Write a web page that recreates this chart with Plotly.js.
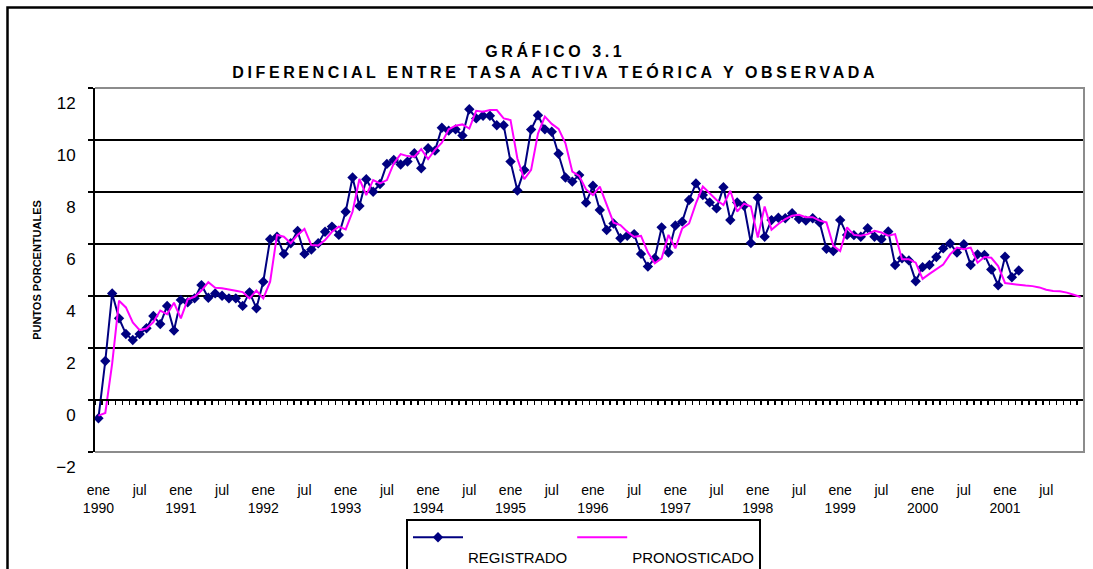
<!DOCTYPE html>
<html><head><meta charset="utf-8">
<script src="https://cdn.plot.ly/plotly-3.0.1.min.js"></script>
<style>
body{margin:0;background:#fff;}
#chart .gtitle{letter-spacing:3.6px;}
</style>
</head><body>
<div id="chart" style="width:1093px;height:569px;"></div>
<script>
const anios = [1990,1991,1992,1993,1994,1995,1996,1997,1998,1999,2000,2001];
const mesesAbrev = ["ene","feb","mar","abr","may","jun","jul","ago","sep","oct","nov","dic"];
const categorias = [];
anios.forEach(a => mesesAbrev.forEach(m => categorias.push(m + " " + a)));

const registrado = [
 -0.70, 1.50, 4.10, 3.14, 2.54, 2.31, 2.54, 2.76, 3.23, 2.92,
 3.62, 2.67, 3.85, 3.76, 3.91, 4.42, 3.93, 4.10, 4.01, 3.91,
 3.91, 3.62, 4.14, 3.53, 4.55, 6.18, 6.28, 5.62, 6.03, 6.50,
 5.62, 5.79, 6.03, 6.47, 6.67, 6.35, 7.24, 8.56, 7.46, 8.49,
 8.01, 8.31, 9.08, 9.23, 9.06, 9.17, 9.49, 8.91, 9.68, 9.59,
 10.47, 10.36, 10.41, 10.17, 11.18, 10.83, 10.93, 10.93, 10.57, 10.57,
 9.17, 8.06, 8.85, 10.40, 10.95, 10.41, 10.32, 9.47, 8.56, 8.40,
 8.65, 7.59, 8.24, 7.31, 6.54, 6.79, 6.22, 6.32, 6.38, 5.62,
 5.13, 5.45, 6.64, 5.67, 6.71, 6.86, 7.69, 8.33, 7.88, 7.60,
 7.37, 8.18, 6.92, 7.60, 7.47, 6.04, 7.78, 6.28, 6.92, 7.01,
 6.99, 7.18, 6.96, 6.90, 6.99, 6.83, 5.82, 5.73, 6.92, 6.35,
 6.34, 6.28, 6.61, 6.28, 6.18, 6.48, 5.19, 5.45, 5.37, 4.57,
 5.11, 5.19, 5.50, 5.83, 6.02, 5.67, 5.99, 5.19, 5.60, 5.58,
 5.02, 4.41, 5.51, 4.72, 4.98
];

const pronosticado = [
 -0.60, -0.50, 1.40, 3.82, 3.56, 2.98, 2.69, 2.75, 3.00, 3.44,
 3.30, 3.74, 3.14, 3.87, 3.97, 4.21, 4.53, 4.32, 4.30, 4.26,
 4.20, 4.15, 3.91, 4.21, 3.91, 4.55, 6.35, 6.28, 6.03, 6.35,
 6.58, 5.96, 5.94, 6.15, 6.47, 6.67, 6.56, 7.24, 8.50, 7.88,
 8.46, 8.33, 8.46, 9.10, 9.46, 9.38, 9.36, 9.65, 9.27, 9.62,
 9.90, 10.41, 10.55, 10.60, 10.44, 11.12, 11.09, 11.15, 11.15, 10.83,
 10.77, 9.29, 8.49, 8.85, 10.25, 10.90, 10.62, 10.43, 9.87, 8.78,
 8.62, 8.10, 7.88, 8.21, 7.50, 6.82, 6.73, 6.47, 6.28, 6.31,
 5.68, 5.26, 5.45, 6.35, 5.83, 6.60, 6.79, 7.56, 8.21, 7.95,
 7.69, 7.50, 8.05, 7.25, 7.55, 7.44, 6.25, 7.44, 6.55, 6.77,
 6.96, 7.09, 7.12, 7.03, 7.03, 6.90, 6.83, 5.93, 5.73, 6.64,
 6.35, 6.32, 6.38, 6.51, 6.44, 6.32, 6.38, 5.41, 5.41, 5.28,
 4.66, 4.85, 5.02, 5.21, 5.60, 5.86, 5.80, 5.86, 5.28, 5.50,
 5.47, 5.15, 4.50, 4.46, 4.44, 4.40, 4.38, 4.33, 4.24, 4.19,
 4.18, 4.13, 4.05, 3.96
];

const nombres = ["REGISTRADO", "PRONOSTICADO"];
const tituloGrafico = "GRÁFICO 3.1";
const subtituloGrafico = "DIFERENCIAL ENTRE TASA ACTIVA TEÓRICA Y OBSERVADA";
const tituloEjeY = "PUNTOS PORCENTUALES";

const etiquetasPos = categorias.filter((c, i) => i % 6 === 0);
const etiquetasTexto = etiquetasPos.map(c => {
  const partes = c.split(" ");
  return partes[0] === "ene" ? "ene<br>" + partes[1] : partes[0];
});

const FONT = "Liberation Sans, Arial, sans-serif";

const traces = [
  {
    type: "scatter", mode: "lines+markers", name: "&nbsp;<br>" + nombres[0],
    x: categorias.slice(0, registrado.length), y: registrado,
    line: {color: "#000080", width: 2},
    marker: {symbol: "diamond", size: 8, color: "#000080"},
    hoverinfo: "skip"
  },
  {
    type: "scatter", mode: "lines", name: "&nbsp;<br>" + nombres[1],
    x: categorias, y: pronosticado, xaxis: "x2",
    line: {color: "#FF00FF", width: 2},
    hoverinfo: "skip"
  }
];

const layout = {
  width: 1093, height: 569,
  margin: {l: 95, r: 9, t: 88, b: 117, autoexpand: false},
  paper_bgcolor: "#fff", plot_bgcolor: "#fff",
  font: {family: FONT, color: "#000"},
  showlegend: true,
  title: {
    text: tituloGrafico + "<br>" + subtituloGrafico,
    font: {family: FONT, size: 16, weight: "bold", color: "#000"},
    xref: "container", x: 0.508, xanchor: "center",
    yref: "container", y: 1 - 57/569, yanchor: "top"
  },
  xaxis: {
    type: "category", categoryorder: "array", categoryarray: categorias,
    range: [-0.5, categorias.length - 0.5],
    tickmode: "array", tickvals: etiquetasPos, ticktext: etiquetasTexto,
    ticks: "", showline: false, showgrid: false, zeroline: false,
    tickfont: {family: FONT, size: 14, color: "#000"},
    ticklabelstandoff: 28, tickangle: 0
  },
  xaxis2: {
    type: "category", categoryorder: "array", categoryarray: categorias,
    range: [-0.5, categorias.length - 0.5],
    overlaying: "x", anchor: "free", position: 2/14, side: "bottom",
    showline: true, linecolor: "#000", linewidth: 2,
    ticks: "outside", tickson: "boundaries", tickmode: "linear", tick0: 0, dtick: 1,
    ticklen: 4, tickwidth: 1.5, tickcolor: "#000",
    showticklabels: false, showgrid: false, zeroline: false
  },
  yaxis: {
    range: [-2, 12], tick0: 0, dtick: 2,
    showgrid: true, gridcolor: "#000", gridwidth: 2, zeroline: false,
    showline: true, linecolor: "#000", linewidth: 2,
    ticks: "outside", ticklen: 5, tickwidth: 2, tickcolor: "#000",
    tickfont: {family: FONT, size: 17, color: "#000"},
    ticklabelshift: 15, ticklabelstandoff: 9,
    title: {text: tituloEjeY, font: {family: FONT, size: 11, weight: "bold", color: "#000"}, standoff: 12}
  },
  legend: {
    orientation: "h", x: (406 - 95) / 989, xanchor: "left",
    y: (452 - 519) / 364, yanchor: "top",
    bgcolor: "#fff", bordercolor: "#000", borderwidth: 2,
    font: {family: FONT, size: 15, color: "#000"},
    valign: "top", traceorder: "normal", itemwidth: 50
  },
  shapes: [
    {type: "rect", xref: "paper", yref: "paper",
     x0: (7.5 - 95) / 989, x1: 1.02, y0: -0.7, y1: (452 - 7.5) / 364,
     line: {color: "#000", width: 2.5}, fillcolor: "rgba(0,0,0,0)", layer: "below"},
    {type: "path", xref: "paper", yref: "paper", path: "M0,1L1,1L1,0L0,0",
     line: {color: "#8c8c8c", width: 2}, layer: "above"}
  ]
};

Plotly.newPlot("chart", traces, layout, {staticPlot: true, displayModeBar: false});
</script>
</body></html>
